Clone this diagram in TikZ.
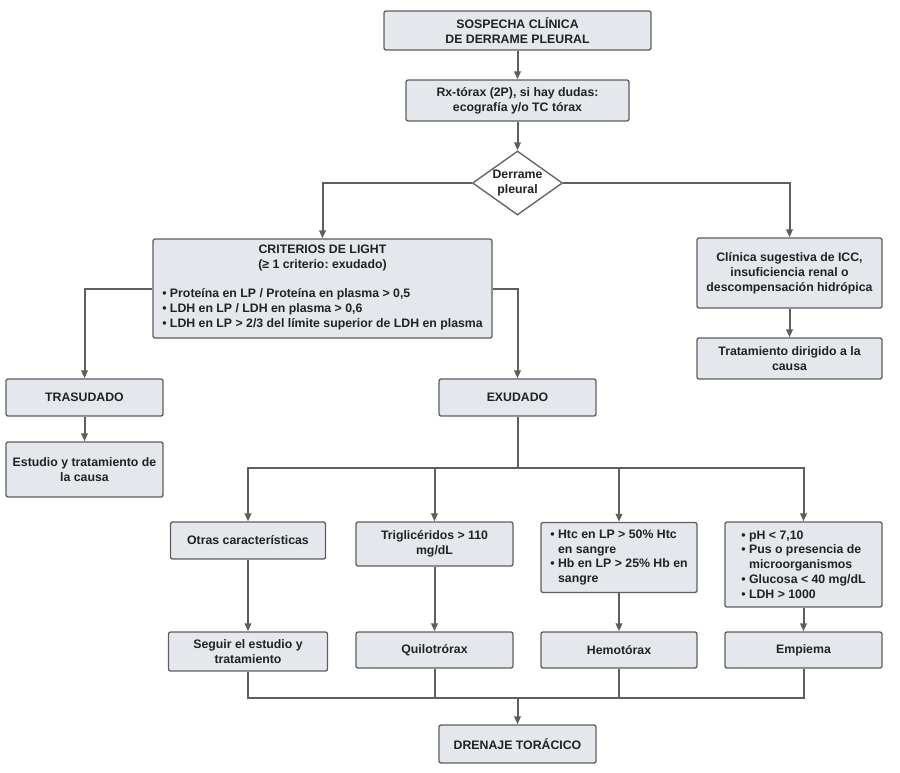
\documentclass[tikz,border=0pt]{standalone}
\usepackage{fontspec}
\setmainfont{Liberation Sans}
\usetikzlibrary{shapes.geometric}
\usetikzlibrary{arrows.meta}
\definecolor{boxfill}{HTML}{E4E7EC}
\definecolor{linegray}{HTML}{5E5E5E}
\definecolor{txtgray}{HTML}{222222}
\frenchspacing

\begin{document}
\begin{tikzpicture}
		[x=1pt, y=-1pt, font=\fontsize{12.3}{14.8}\selectfont\bfseries, text=txtgray,
		box/.style = {draw=linegray, fill=boxfill, rounded corners=2pt, line width=1.3pt, align=center, inner sep=3pt},
		dec/.style = {draw=linegray, fill=white, diamond, line width=1.3pt, align=center, inner sep=-3pt, minimum width=90pt, minimum height=64pt},
		arr/.style = {-{Triangle[length=8pt,width=6.5pt]}},
		conn/.style = {draw=linegray, line width=2pt}]
	\useasboundingbox (0,0) rectangle (900,772);
	\node[box, minimum width=267pt, minimum height=39pt] (sosp) at (517.5,30.5) {SOSPECHA CLÍNICA\\DE DERRAME PLEURAL};
	\node[box, minimum width=223pt, minimum height=41pt] (rx) at (517.5,100.5) {Rx-tórax (2P), si hay dudas:\\ecografía y/o TC tórax};
	\node[dec] (dp) at (517.5,183) {Derrame\\pleural};
	\node[box, minimum width=339pt, minimum height=99pt] (crit) at (322.5,288.5) {CRITERIOS DE LIGHT\\(≥ 1 criterio: exudado)\\[14pt]\begin{tabular}[t]{@{}l@{}}• Proteína en LP / Proteína en plasma > 0,5\\• LDH en LP / LDH en plasma > 0,6\\• LDH en LP > 2/3 del límite superior de LDH en plasma\end{tabular}};
	\node[box, minimum width=185pt, minimum height=70pt] (clin) at (789.5,273) {Clínica sugestiva de ICC,\\insuficiencia renal o\\descompensación hidrópica};
	\node[box, minimum width=185pt, minimum height=41pt] (trat) at (789.5,358.5) {Tratamiento dirigido a la\\causa};
	\node[box, minimum width=157pt, minimum height=37pt] (tras) at (84.5,397.5) {TRASUDADO};
	\node[box, minimum width=157pt, minimum height=55pt] (estu) at (84.5,469.5) {Estudio y tratamiento de\\la causa};
	\node[box, minimum width=157pt, minimum height=37pt] (exud) at (517.5,397.5) {EXUDADO};
	\node[box, minimum width=155pt, minimum height=37pt] (otras) at (248,540.5) {Otras características};
	\node[box, minimum width=157pt, minimum height=44pt] (trig) at (434.5,544) {Triglicéridos > 110\\mg/dL};
	\node[box, minimum width=156pt, minimum height=70pt, align=left] (htc) at (619,557.5) {• Htc en LP > 50\% Htc\\\phantom{• }en sangre\\• Hb en LP > 25\% Hb en\\\phantom{• }sangre};
	\node[box, minimum width=157pt, minimum height=85pt, align=left] (ph) at (803.5,564.5) {• pH < 7,10\\• Pus o presencia de\\\phantom{• }microorganismos\\• Glucosa < 40 mg/dL\\• LDH > 1000};
	\node[box, minimum width=159pt, minimum height=39pt] (seg) at (248,651.5) {Seguir el estudio y\\tratamiento};
	\node[box, minimum width=157pt, minimum height=36pt] (quil) at (434.5,650) {Quilotrórax};
	\node[box, minimum width=156pt, minimum height=36pt] (hemo) at (619,650) {Hemotórax};
	\node[box, minimum width=157pt, minimum height=36pt] (emp) at (803.5,650) {Empiema};
	\node[box, minimum width=157pt, minimum height=38pt] (dren) at (517.5,744) {DRENAJE TORÁCICO};
	\coordinate (split) at (517.5,468);
	\coordinate (join) at (517.5,698);
	\draw[conn, arr] (sosp) -- (rx);
	\draw[conn, arr] (rx) -- (dp);
	\draw[conn, arr] (dp.west) -| (crit.north);
	\draw[conn, arr] (dp.east) -| (clin.north);
	\draw[conn, arr] (clin) -- (trat);
	\draw[conn, arr] (crit.west) -| (tras.north);
	\draw[conn, arr] (crit.east) -| (exud.north);
	\draw[conn, arr] (tras) -- (estu);
	\draw[conn] (exud) -- (split);
	\foreach \n in {otras, trig, htc, ph}
		\draw[conn, arr] (split) -| (\n.north);
	\draw[conn, arr] (otras) -- (seg);
	\draw[conn, arr] (trig) -- (quil);
	\draw[conn, arr] (htc) -- (hemo);
	\draw[conn, arr] (ph) -- (emp);
	\foreach \n in {seg, quil, hemo, emp}
		\draw[conn] (\n.south) |- (join);
	\draw[conn, arr] (join) -- (dren);
\end{tikzpicture}
\end{document}
